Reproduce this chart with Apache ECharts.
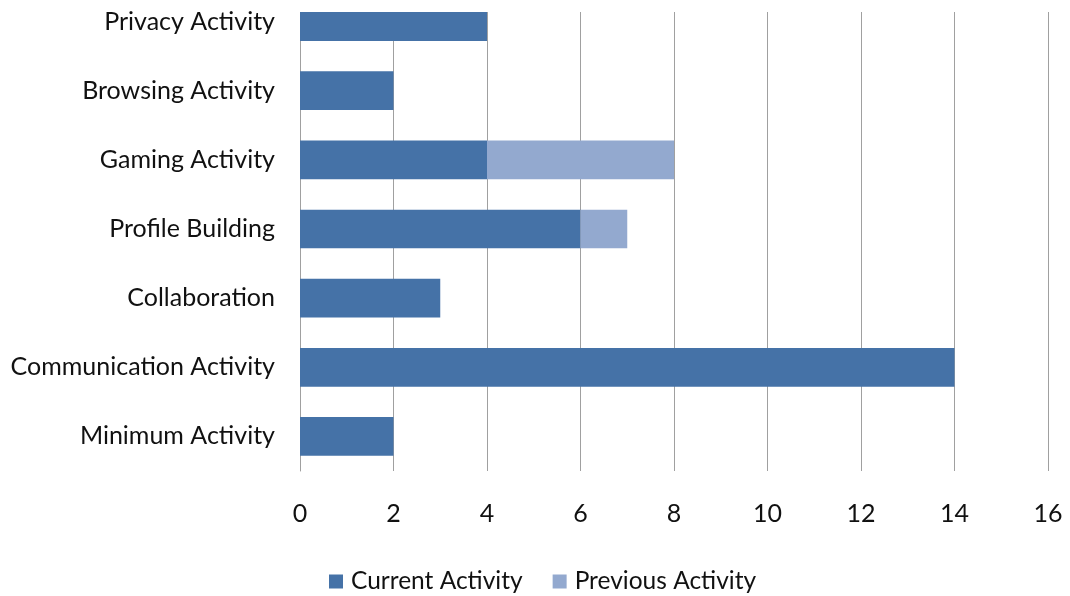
<!DOCTYPE html>
<html><head><meta charset="utf-8">
<script src="https://cdn.jsdelivr.net/npm/echarts@6/dist/echarts.min.js"></script>
<style>html,body{margin:0;padding:0;background:#fff;overflow:hidden}#c{position:relative;top:-20px;width:1070px;height:616px}</style>
</head><body><div id="c"></div>
<script>
const categories = ["Privacy Activity","Browsing Activity","Gaming Activity","Profile Building","Collaboration","Communication Activity","Minimum Activity"];
const currentActivity = [4,2,4,6,3,14,2];
const previousActivity = [0,0,4,1,0,0,0];
const seriesNames = ["Current Activity","Previous Activity"];
const FONT = "Lato";
const chart = echarts.init(document.getElementById('c'));
chart.setOption({
  animation:false,
  textStyle:{fontFamily:FONT},
  grid:{left:300,right:22,top:7,height:484,containLabel:false},
  graphic:[{type:'rect',left:299,top:0,shape:{width:771,height:32},style:{fill:'#fff'},z:100}],
  legend:{top:584,left:324,itemWidth:14,itemHeight:14,itemGap:30,icon:'rect',
    textStyle:{fontFamily:FONT,fontSize:24.5,color:'#111',padding:[0,0,0,3]},data:seriesNames},
  xAxis:{type:'value',min:0,max:16,interval:2,
    axisLine:{show:false},axisTick:{show:false},
    axisLabel:{fontFamily:FONT,fontSize:25,color:'#111',margin:30},
    splitLine:{lineStyle:{color:'#a0a0a0',width:1}}},
  yAxis:{type:'category',inverse:true,data:categories,
    axisLine:{show:true,lineStyle:{color:'#a0a0a0'}},axisTick:{show:false},
    axisLabel:{fontFamily:FONT,fontSize:25,color:'#111',margin:25}},
  series:[
    {name:seriesNames[0],type:'bar',stack:'a',data:currentActivity,barCategoryGap:'44%',
     itemStyle:{color:'#4572A7'}},
    {name:seriesNames[1],type:'bar',stack:'a',data:previousActivity,
     itemStyle:{color:'#93A9CF'}}
  ]
});
</script></body></html>
